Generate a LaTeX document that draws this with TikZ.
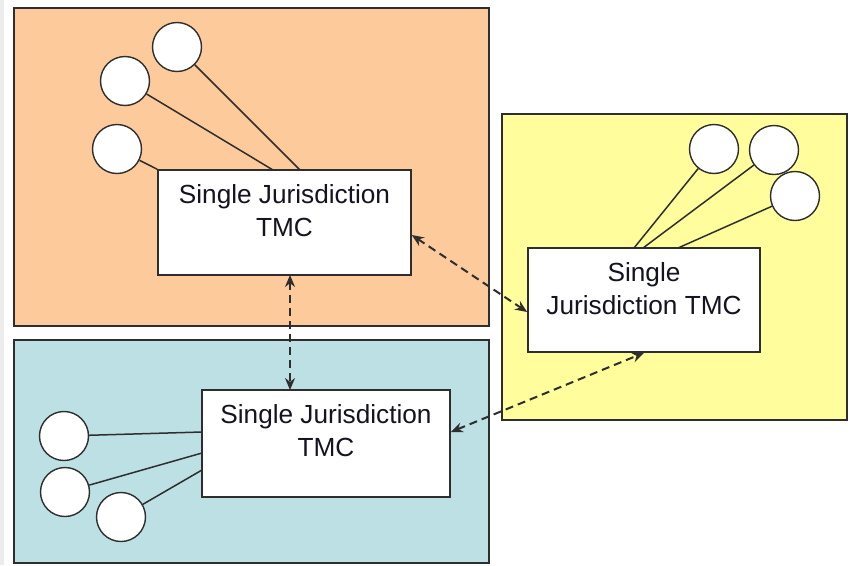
\documentclass[tikz,border=0pt]{standalone}
\usepackage{fontspec}
\setmainfont{Liberation Sans}
\usetikzlibrary{arrows.meta,calc}

\definecolor{peach}{HTML}{FDCA9B}
\definecolor{paleblue}{HTML}{BCE0E4}
\definecolor{paleyellow}{HTML}{FFFD9C}
\definecolor{edgegray}{HTML}{2E2E2E}
\definecolor{inkcol}{HTML}{141420}

\tikzset{
  region/.style={draw=edgegray, line width=1.6pt},
  tmcbox/.style={draw=edgegray, line width=1.6pt, fill=white, inner sep=0pt},
  tmctext/.style={font=\fontsize{26.2}{33}\selectfont, text=inkcol, align=center, inner sep=0pt},
  device/.style={circle, draw=edgegray, line width=1.4pt, fill=white, minimum size=49pt, inner sep=0pt},
  link/.style={draw=edgegray, line width=1.5pt},
  exchange/.style={draw=edgegray, line width=2pt, dash pattern=on 8pt off 5pt,
    {Stealth[length=12pt,width=10pt]}-{Stealth[length=12pt,width=10pt]}}
}

\begin{document}
\begin{tikzpicture}[x=1pt,y=-1pt]
  \useasboundingbox (0,0) rectangle (853,565);
  \fill[white] (0,0) rectangle (853,565);
  \fill[gray!15] (0,0) rectangle (4,565);

  % jurisdiction regions
  \filldraw[region, fill=peach] (14,8) rectangle (489,326);
  \filldraw[region, fill=paleblue] (14,340) rectangle (489,563);
  \filldraw[region, fill=paleyellow] (502,114) rectangle (847,420);

  % traffic management centres
  \node[tmcbox, minimum width=253pt, minimum height=105pt] (tmcA) at (284.5,222.5) {};
  \node[tmctext] (tmcAtext) at (284.5,211) {Single Jurisdiction\\TMC};

  \node[tmcbox, minimum width=232pt, minimum height=104pt] (tmcB) at (644,300) {};
  \node[tmctext] (tmcBtext) at (644,289) {Single\\Jurisdiction TMC};

  \node[tmcbox, minimum width=248pt, minimum height=107pt] (tmcC) at (326,443.5) {};
  \node[tmctext] (tmcCtext) at (326,431) {Single Jurisdiction\\TMC};

  % field devices, upper region
  \node[device] (a1) at (177,47) {};
  \node[device] (a2) at (125,81) {};
  \node[device] (a3) at (117,149) {};
  \coordinate (a1end) at (300,170);
  \coordinate (a2end) at (273,170);
  \draw[link] (a1) -- (a1end);
  \draw[link] (a2) -- (a2end);
  \draw[link] (a3) -- (tmcA.north west);

  % field devices, right region
  \node[device] (b1) at (714,149) {};
  \node[device] (b2) at (774,150) {};
  \node[device] (b3) at (795,196) {};
  \coordinate (b1end) at (634,248);
  \coordinate (b2end) at (643,248);
  \coordinate (b3end) at (678,248);
  \draw[link] (b1) -- (b1end);
  \draw[link] (b2) -- (b2end);
  \draw[link] (b3) -- (b3end);

  % field devices, lower region
  \node[device] (c1) at (64,436) {};
  \node[device] (c2) at (65,492) {};
  \node[device] (c3) at (121,517) {};
  \coordinate (c1end) at (202,432);
  \coordinate (c2end) at (202,453);
  \coordinate (c3end) at (202,470);
  \draw[link] (c1) -- (c1end);
  \draw[link] (c2) -- (c2end);
  \draw[link] (c3) -- (c3end);

  % centre-to-centre information exchange
  \coordinate (xAB1) at ($(tmcA.east)+(0,12.5)$);
  \coordinate (xAB2) at ($(tmcB.west)+(0,12)$);
  \draw[exchange] (xAB1) -- (xAB2);

  \coordinate (xAC1) at (290,275);
  \coordinate (xAC2) at (290,390);
  \draw[exchange] (xAC1) -- (xAC2);

  \coordinate (xCB1) at ($(tmcC.east)+(0,-11.5)$);
  \draw[exchange] (xCB1) -- (tmcB.south);
\end{tikzpicture}
\end{document}
